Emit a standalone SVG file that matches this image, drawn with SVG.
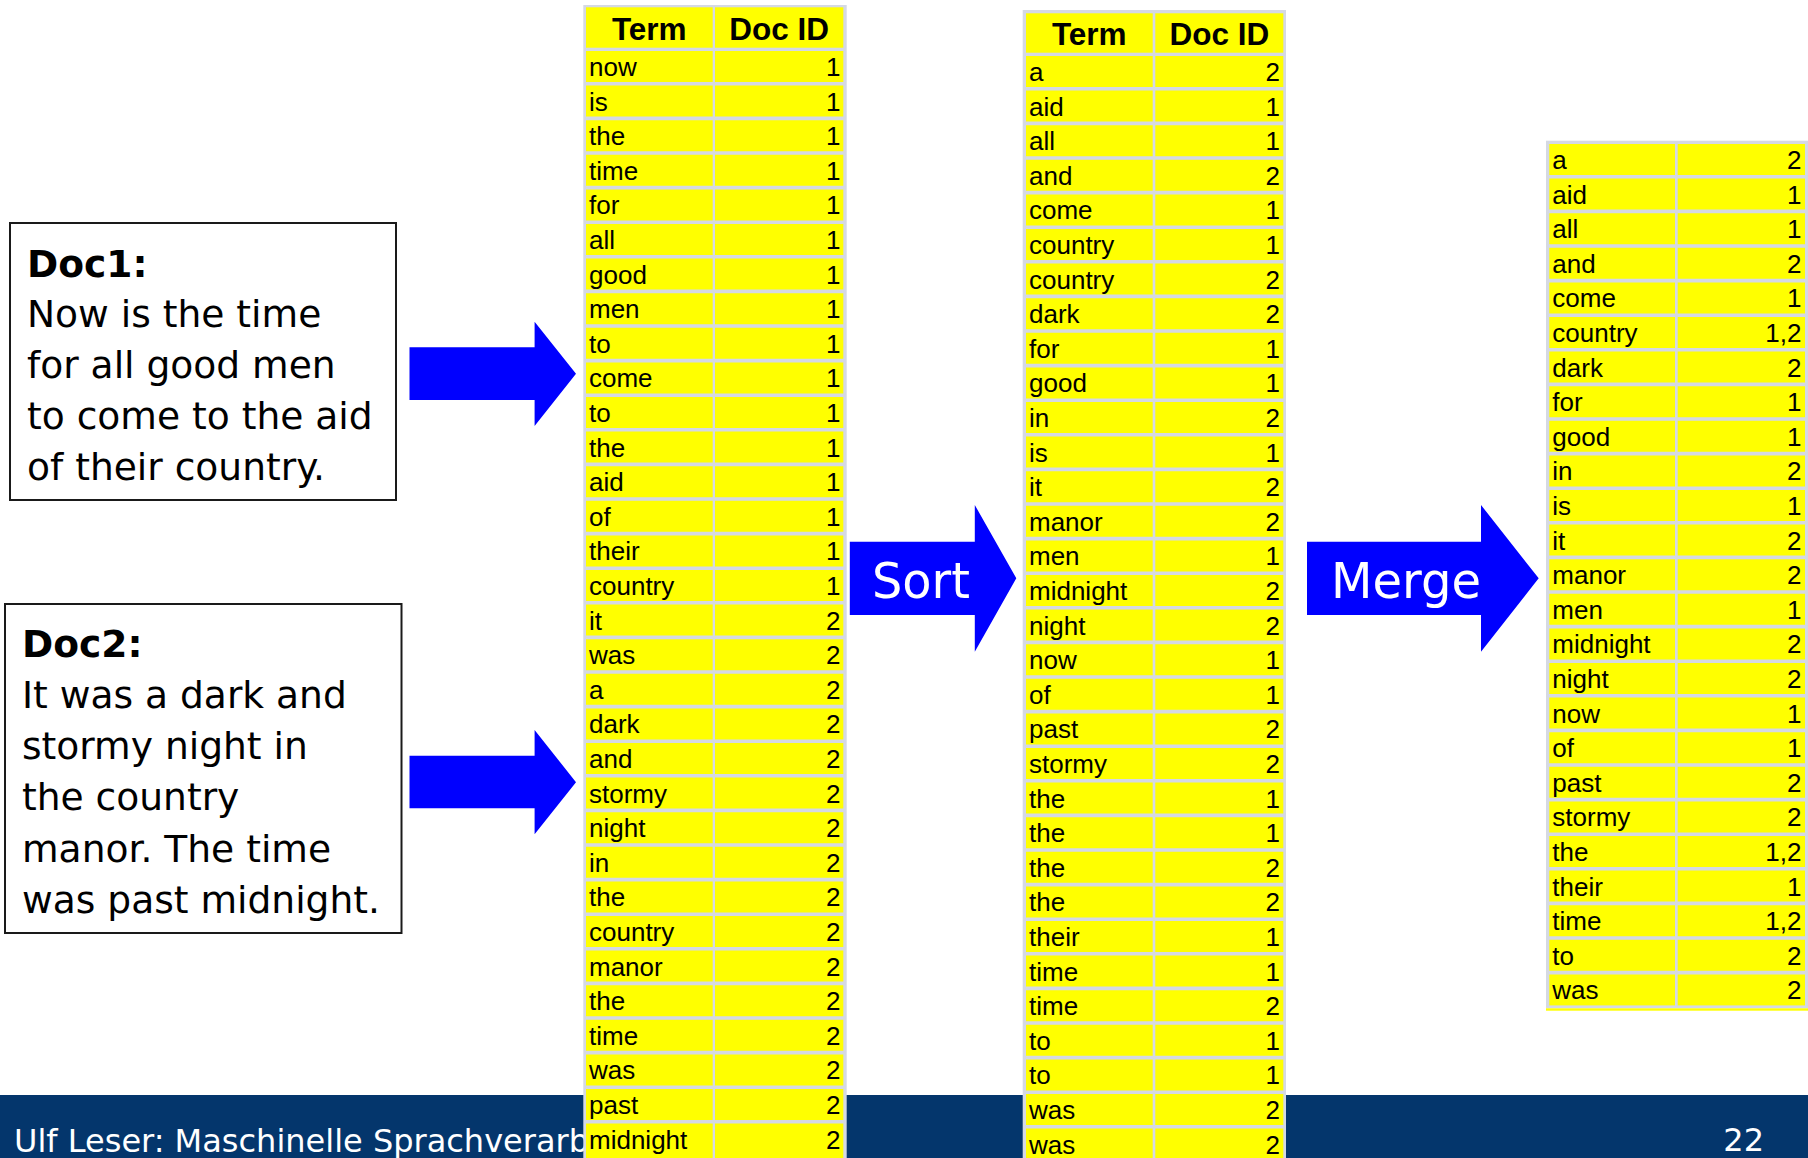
<svg xmlns="http://www.w3.org/2000/svg" width="1808" height="1158" viewBox="0 0 1808 1158">
<style>
.tb{fill:#D5D9E3}
.cy{fill:#FFFF00}
.gap{stroke:#D5D9E3;stroke-width:3.6;fill:none}
.h{font-family:"Liberation Sans",Arial,sans-serif;font-weight:bold;font-size:31.5px;fill:#000;text-anchor:middle}
.t{font-family:"Liberation Sans",Arial,sans-serif;font-size:26px;fill:#000}
.n{font-family:"Liberation Sans",Arial,sans-serif;font-size:26px;fill:#000;text-anchor:end}
.doc{fill:#fff;stroke:#1a1a1a;stroke-width:2}
.dt{font-family:"DejaVu Sans",Verdana,sans-serif;font-size:37.6px;fill:#000}
.db{font-family:"DejaVu Sans",Verdana,sans-serif;font-size:37.6px;font-weight:bold;fill:#000}
.arr{fill:#0000FF}
.al{font-family:"DejaVu Sans",Verdana,sans-serif;font-size:50px;fill:#fff}
.ft{font-family:"DejaVu Sans",Verdana,sans-serif;font-size:32px;fill:#fff}
</style>

<g id="footer">
<rect x="0" y="1095" width="1808" height="63" fill="#04366C"/>
<text class="ft" x="14" y="1151.5">Ulf Leser: Maschinelle Sprachverarb</text>
<text class="ft" x="1764" y="1151" text-anchor="end">22</text>
</g>

<g id="doc1">
<rect class="doc" x="10" y="223" width="386" height="277"/>
<text class="db" x="27" y="276.5">Doc1:</text>
<text class="dt" x="27" y="327.3">Now is the time</text>
<text class="dt" x="27" y="378.1">for all good men</text>
<text class="dt" x="27" y="428.9">to come to the aid</text>
<text class="dt" x="27" y="479.7">of their country.</text>
</g>

<g id="doc2">
<rect class="doc" x="5" y="604" width="396.5" height="329"/>
<text class="db" x="22" y="656.7">Doc2:</text>
<text class="dt" x="22" y="707.9">It was a dark and</text>
<text class="dt" x="22" y="759.1">stormy night in</text>
<text class="dt" x="22" y="810.3">the country</text>
<text class="dt" x="22" y="861.5">manor. The time</text>
<text class="dt" x="22" y="912.7">was past midnight.</text>
</g>

<g id="table1">
<rect class="tb" x="583.3" y="5" width="263.4" height="1160"/>
<rect class="cy" x="586" y="7.3" width="126.7" height="40.4"/>
<rect class="cy" x="715" y="7.3" width="128.3" height="40.4"/>
<text class="h" x="649.3" y="40">Term</text>
<text class="h" x="779.2" y="40">Doc ID</text>
<rect class="cy" x="586" y="51" width="126.7" height="1110"/>
<rect class="cy" x="715" y="51" width="128.3" height="1110"/>
<path class="gap" d="M584 83.8H846M584 118.4H846M584 153H846M584 187.6H846M584 222.2H846M584 256.8H846M584 291.4H846M584 326H846M584 360.6H846M584 395.2H846M584 429.8H846M584 464.4H846M584 499H846M584 533.6H846M584 568.2H846M584 602.8H846M584 637.4H846M584 672H846M584 706.6H846M584 741.2H846M584 775.8H846M584 810.4H846M584 845H846M584 879.6H846M584 914.2H846M584 948.8H846M584 983.4H846M584 1018H846M584 1052.6H846M584 1087.2H846M584 1121.8H846"/>
<g>
<text class="t" x="589" y="76">now</text><text class="n" x="840.5" y="76">1</text>
<text class="t" x="589" y="110.6">is</text><text class="n" x="840.5" y="110.6">1</text>
<text class="t" x="589" y="145.2">the</text><text class="n" x="840.5" y="145.2">1</text>
<text class="t" x="589" y="179.8">time</text><text class="n" x="840.5" y="179.8">1</text>
<text class="t" x="589" y="214.4">for</text><text class="n" x="840.5" y="214.4">1</text>
<text class="t" x="589" y="249">all</text><text class="n" x="840.5" y="249">1</text>
<text class="t" x="589" y="283.6">good</text><text class="n" x="840.5" y="283.6">1</text>
<text class="t" x="589" y="318.2">men</text><text class="n" x="840.5" y="318.2">1</text>
<text class="t" x="589" y="352.8">to</text><text class="n" x="840.5" y="352.8">1</text>
<text class="t" x="589" y="387.4">come</text><text class="n" x="840.5" y="387.4">1</text>
<text class="t" x="589" y="422">to</text><text class="n" x="840.5" y="422">1</text>
<text class="t" x="589" y="456.6">the</text><text class="n" x="840.5" y="456.6">1</text>
<text class="t" x="589" y="491.2">aid</text><text class="n" x="840.5" y="491.2">1</text>
<text class="t" x="589" y="525.8">of</text><text class="n" x="840.5" y="525.8">1</text>
<text class="t" x="589" y="560.4">their</text><text class="n" x="840.5" y="560.4">1</text>
<text class="t" x="589" y="595">country</text><text class="n" x="840.5" y="595">1</text>
<text class="t" x="589" y="629.6">it</text><text class="n" x="840.5" y="629.6">2</text>
<text class="t" x="589" y="664.2">was</text><text class="n" x="840.5" y="664.2">2</text>
<text class="t" x="589" y="698.8">a</text><text class="n" x="840.5" y="698.8">2</text>
<text class="t" x="589" y="733.4">dark</text><text class="n" x="840.5" y="733.4">2</text>
<text class="t" x="589" y="768">and</text><text class="n" x="840.5" y="768">2</text>
<text class="t" x="589" y="802.6">stormy</text><text class="n" x="840.5" y="802.6">2</text>
<text class="t" x="589" y="837.2">night</text><text class="n" x="840.5" y="837.2">2</text>
<text class="t" x="589" y="871.8">in</text><text class="n" x="840.5" y="871.8">2</text>
<text class="t" x="589" y="906.4">the</text><text class="n" x="840.5" y="906.4">2</text>
<text class="t" x="589" y="941">country</text><text class="n" x="840.5" y="941">2</text>
<text class="t" x="589" y="975.6">manor</text><text class="n" x="840.5" y="975.6">2</text>
<text class="t" x="589" y="1010.2">the</text><text class="n" x="840.5" y="1010.2">2</text>
<text class="t" x="589" y="1044.8">time</text><text class="n" x="840.5" y="1044.8">2</text>
<text class="t" x="589" y="1079.4">was</text><text class="n" x="840.5" y="1079.4">2</text>
<text class="t" x="589" y="1114">past</text><text class="n" x="840.5" y="1114">2</text>
<text class="t" x="589" y="1148.6">midnight</text><text class="n" x="840.5" y="1148.6">2</text>
</g>
</g>

<g id="table2">
<rect class="tb" x="1022.7" y="10" width="263.3" height="1160"/>
<rect class="cy" x="1026" y="13.3" width="126.7" height="39.4"/>
<rect class="cy" x="1155.3" y="13.3" width="128" height="39.4"/>
<text class="h" x="1089.3" y="45">Term</text>
<text class="h" x="1219.3" y="45">Doc ID</text>
<rect class="cy" x="1026" y="56" width="126.7" height="1110"/>
<rect class="cy" x="1155.3" y="56" width="128" height="1110"/>
<path class="gap" d="M1023 88.8H1286M1023 123.4H1286M1023 158H1286M1023 192.6H1286M1023 227.2H1286M1023 261.8H1286M1023 296.4H1286M1023 331H1286M1023 365.6H1286M1023 400.2H1286M1023 434.8H1286M1023 469.4H1286M1023 504H1286M1023 538.6H1286M1023 573.2H1286M1023 607.8H1286M1023 642.4H1286M1023 677H1286M1023 711.6H1286M1023 746.2H1286M1023 780.8H1286M1023 815.4H1286M1023 850H1286M1023 884.6H1286M1023 919.2H1286M1023 953.8H1286M1023 988.4H1286M1023 1023H1286M1023 1057.6H1286M1023 1092.2H1286M1023 1126.8H1286"/>
<g>
<text class="t" x="1029" y="81">a</text><text class="n" x="1280" y="81">2</text>
<text class="t" x="1029" y="115.6">aid</text><text class="n" x="1280" y="115.6">1</text>
<text class="t" x="1029" y="150.2">all</text><text class="n" x="1280" y="150.2">1</text>
<text class="t" x="1029" y="184.8">and</text><text class="n" x="1280" y="184.8">2</text>
<text class="t" x="1029" y="219.4">come</text><text class="n" x="1280" y="219.4">1</text>
<text class="t" x="1029" y="254">country</text><text class="n" x="1280" y="254">1</text>
<text class="t" x="1029" y="288.6">country</text><text class="n" x="1280" y="288.6">2</text>
<text class="t" x="1029" y="323.2">dark</text><text class="n" x="1280" y="323.2">2</text>
<text class="t" x="1029" y="357.8">for</text><text class="n" x="1280" y="357.8">1</text>
<text class="t" x="1029" y="392.4">good</text><text class="n" x="1280" y="392.4">1</text>
<text class="t" x="1029" y="427">in</text><text class="n" x="1280" y="427">2</text>
<text class="t" x="1029" y="461.6">is</text><text class="n" x="1280" y="461.6">1</text>
<text class="t" x="1029" y="496.2">it</text><text class="n" x="1280" y="496.2">2</text>
<text class="t" x="1029" y="530.8">manor</text><text class="n" x="1280" y="530.8">2</text>
<text class="t" x="1029" y="565.4">men</text><text class="n" x="1280" y="565.4">1</text>
<text class="t" x="1029" y="600">midnight</text><text class="n" x="1280" y="600">2</text>
<text class="t" x="1029" y="634.6">night</text><text class="n" x="1280" y="634.6">2</text>
<text class="t" x="1029" y="669.2">now</text><text class="n" x="1280" y="669.2">1</text>
<text class="t" x="1029" y="703.8">of</text><text class="n" x="1280" y="703.8">1</text>
<text class="t" x="1029" y="738.4">past</text><text class="n" x="1280" y="738.4">2</text>
<text class="t" x="1029" y="773">stormy</text><text class="n" x="1280" y="773">2</text>
<text class="t" x="1029" y="807.6">the</text><text class="n" x="1280" y="807.6">1</text>
<text class="t" x="1029" y="842.2">the</text><text class="n" x="1280" y="842.2">1</text>
<text class="t" x="1029" y="876.8">the</text><text class="n" x="1280" y="876.8">2</text>
<text class="t" x="1029" y="911.4">the</text><text class="n" x="1280" y="911.4">2</text>
<text class="t" x="1029" y="946">their</text><text class="n" x="1280" y="946">1</text>
<text class="t" x="1029" y="980.6">time</text><text class="n" x="1280" y="980.6">1</text>
<text class="t" x="1029" y="1015.2">time</text><text class="n" x="1280" y="1015.2">2</text>
<text class="t" x="1029" y="1049.8">to</text><text class="n" x="1280" y="1049.8">1</text>
<text class="t" x="1029" y="1084.4">to</text><text class="n" x="1280" y="1084.4">1</text>
<text class="t" x="1029" y="1119">was</text><text class="n" x="1280" y="1119">2</text>
<text class="t" x="1029" y="1153.6">was</text><text class="n" x="1280" y="1153.6">2</text>
</g>
</g>

<g id="table3">
<rect class="tb" x="1546" y="140.7" width="262" height="867.6"/>
<rect class="cy" x="1549.3" y="144" width="125.7" height="861.4"/>
<rect class="cy" x="1677.7" y="144" width="127.3" height="861.4"/>
<rect class="cy" x="1546" y="1008.3" width="262" height="2.4"/>
<path class="gap" d="M1546 176.8H1808M1546 211.4H1808M1546 246H1808M1546 280.6H1808M1546 315.2H1808M1546 349.8H1808M1546 384.4H1808M1546 419H1808M1546 453.6H1808M1546 488.2H1808M1546 522.8H1808M1546 557.4H1808M1546 592H1808M1546 626.6H1808M1546 661.2H1808M1546 695.8H1808M1546 730.4H1808M1546 765H1808M1546 799.6H1808M1546 834.2H1808M1546 868.8H1808M1546 903.4H1808M1546 938H1808M1546 972.6H1808"/>
<g>
<text class="t" x="1552.3" y="169">a</text><text class="n" x="1801.5" y="169">2</text>
<text class="t" x="1552.3" y="203.6">aid</text><text class="n" x="1801.5" y="203.6">1</text>
<text class="t" x="1552.3" y="238.2">all</text><text class="n" x="1801.5" y="238.2">1</text>
<text class="t" x="1552.3" y="272.8">and</text><text class="n" x="1801.5" y="272.8">2</text>
<text class="t" x="1552.3" y="307.4">come</text><text class="n" x="1801.5" y="307.4">1</text>
<text class="t" x="1552.3" y="342">country</text><text class="n" x="1801.5" y="342">1,2</text>
<text class="t" x="1552.3" y="376.6">dark</text><text class="n" x="1801.5" y="376.6">2</text>
<text class="t" x="1552.3" y="411.2">for</text><text class="n" x="1801.5" y="411.2">1</text>
<text class="t" x="1552.3" y="445.8">good</text><text class="n" x="1801.5" y="445.8">1</text>
<text class="t" x="1552.3" y="480.4">in</text><text class="n" x="1801.5" y="480.4">2</text>
<text class="t" x="1552.3" y="515">is</text><text class="n" x="1801.5" y="515">1</text>
<text class="t" x="1552.3" y="549.6">it</text><text class="n" x="1801.5" y="549.6">2</text>
<text class="t" x="1552.3" y="584.2">manor</text><text class="n" x="1801.5" y="584.2">2</text>
<text class="t" x="1552.3" y="618.8">men</text><text class="n" x="1801.5" y="618.8">1</text>
<text class="t" x="1552.3" y="653.4">midnight</text><text class="n" x="1801.5" y="653.4">2</text>
<text class="t" x="1552.3" y="688">night</text><text class="n" x="1801.5" y="688">2</text>
<text class="t" x="1552.3" y="722.6">now</text><text class="n" x="1801.5" y="722.6">1</text>
<text class="t" x="1552.3" y="757.2">of</text><text class="n" x="1801.5" y="757.2">1</text>
<text class="t" x="1552.3" y="791.8">past</text><text class="n" x="1801.5" y="791.8">2</text>
<text class="t" x="1552.3" y="826.4">stormy</text><text class="n" x="1801.5" y="826.4">2</text>
<text class="t" x="1552.3" y="861">the</text><text class="n" x="1801.5" y="861">1,2</text>
<text class="t" x="1552.3" y="895.6">their</text><text class="n" x="1801.5" y="895.6">1</text>
<text class="t" x="1552.3" y="930.2">time</text><text class="n" x="1801.5" y="930.2">1,2</text>
<text class="t" x="1552.3" y="964.8">to</text><text class="n" x="1801.5" y="964.8">2</text>
<text class="t" x="1552.3" y="999.4">was</text><text class="n" x="1801.5" y="999.4">2</text>
</g>
</g>

<g id="connectors">
<polygon class="arr" points="409.5,347.3 534.6,347.3 534.6,321.7 576,373.8 534.6,426 534.6,400 409.5,400"/>
<polygon class="arr" points="409.5,755.7 534.6,755.7 534.6,730 576,782.2 534.6,834.3 534.6,808.3 409.5,808.3"/>
<g id="sort-arrow">
<polygon class="arr" points="849.8,541.7 974.8,541.7 974.8,505 1016.3,578.3 974.8,651.7 974.8,615 849.8,615"/>
<text class="al" x="872" y="598" textLength="98" lengthAdjust="spacingAndGlyphs">Sort</text>
</g>
<g id="merge-arrow">
<polygon class="arr" points="1307,541.7 1481,541.7 1481,505 1538.7,578.3 1481,651.7 1481,615 1307,615"/>
<text class="al" x="1331" y="598" textLength="150" lengthAdjust="spacingAndGlyphs">Merge</text>
</g>
</g>
</svg>
